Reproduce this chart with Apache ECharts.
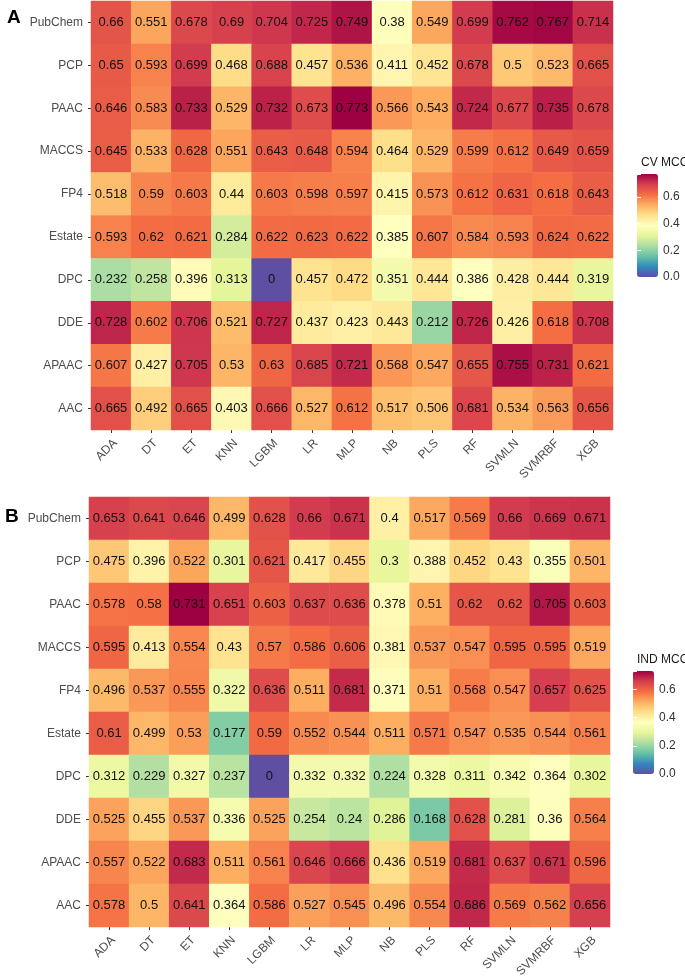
<!DOCTYPE html>
<html>
<head>
<meta charset="utf-8">
<script src="https://cdn.jsdelivr.net/npm/echarts@6/dist/echarts.min.js"></script>
<style>
html,body{margin:0;padding:0;background:#fff;}
#chart{width:685px;height:980px;}
</style>
</head>
<body>
<div id="chart"></div>
<script>
// Categories
const models = ['ADA','DT','ET','KNN','LGBM','LR','MLP','NB','PLS','RF','SVMLN','SVMRBF','XGB'];
const features = ['PubChem','PCP','PAAC','MACCS','FP4','Estate','DPC','DDE','APAAC','AAC']; // top to bottom

// Panel A: CV MCC (rows top to bottom)
const cvPubChem = [0.66,0.551,0.678,0.69,0.704,0.725,0.749,0.38,0.549,0.699,0.762,0.767,0.714];
const cvPCP     = [0.65,0.593,0.699,0.468,0.688,0.457,0.536,0.411,0.452,0.678,0.5,0.523,0.665];
const cvPAAC    = [0.646,0.583,0.733,0.529,0.732,0.673,0.773,0.566,0.543,0.724,0.677,0.735,0.678];
const cvMACCS   = [0.645,0.533,0.628,0.551,0.643,0.648,0.594,0.464,0.529,0.599,0.612,0.649,0.659];
const cvFP4     = [0.518,0.59,0.603,0.44,0.603,0.598,0.597,0.415,0.573,0.612,0.631,0.618,0.643];
const cvEstate  = [0.593,0.62,0.621,0.284,0.622,0.623,0.622,0.385,0.607,0.584,0.593,0.624,0.622];
const cvDPC     = [0.232,0.258,0.396,0.313,0,0.457,0.472,0.351,0.444,0.386,0.428,0.444,0.319];
const cvDDE     = [0.728,0.602,0.706,0.521,0.727,0.437,0.423,0.443,0.212,0.726,0.426,0.618,0.708];
const cvAPAAC   = [0.607,0.427,0.705,0.53,0.63,0.685,0.721,0.568,0.547,0.655,0.755,0.731,0.621];
const cvAAC     = [0.665,0.492,0.665,0.403,0.666,0.527,0.612,0.517,0.506,0.681,0.534,0.563,0.656];

// Panel B: IND MCC (rows top to bottom)
const indPubChem = [0.653,0.641,0.646,0.499,0.628,0.66,0.671,0.4,0.517,0.569,0.66,0.669,0.671];
const indPCP     = [0.475,0.396,0.522,0.301,0.621,0.417,0.455,0.3,0.388,0.452,0.43,0.355,0.501];
const indPAAC    = [0.578,0.58,0.731,0.651,0.603,0.637,0.636,0.378,0.51,0.62,0.62,0.705,0.603];
const indMACCS   = [0.595,0.413,0.554,0.43,0.57,0.586,0.606,0.381,0.537,0.547,0.595,0.595,0.519];
const indFP4     = [0.496,0.537,0.555,0.322,0.636,0.511,0.681,0.371,0.51,0.568,0.547,0.657,0.625];
const indEstate  = [0.61,0.499,0.53,0.177,0.59,0.552,0.544,0.511,0.571,0.547,0.535,0.544,0.561];
const indDPC     = [0.312,0.229,0.327,0.237,0,0.332,0.332,0.224,0.328,0.311,0.342,0.364,0.302];
const indDDE     = [0.525,0.455,0.537,0.336,0.525,0.254,0.24,0.286,0.168,0.628,0.281,0.36,0.564];
const indAPAAC   = [0.557,0.522,0.683,0.511,0.561,0.646,0.666,0.436,0.519,0.681,0.637,0.671,0.596];
const indAAC     = [0.578,0.5,0.641,0.364,0.586,0.527,0.545,0.496,0.554,0.686,0.569,0.562,0.656];

const legendTicks = [0.0, 0.2, 0.4, 0.6];

const cvRows = [cvPubChem,cvPCP,cvPAAC,cvMACCS,cvFP4,cvEstate,cvDPC,cvDDE,cvAPAAC,cvAAC];
const indRows = [indPubChem,indPCP,indPAAC,indMACCS,indFP4,indEstate,indDPC,indDDE,indAPAAC,indAAC];

function toData(rows){
  const out = [];
  rows.forEach((r, yi) => r.forEach((v, xi) => out.push([xi, yi, v])));
  return out;
}
function maxOf(rows){ return Math.max(...rows.map(r => Math.max(...r))); }

const spectral = ['#5E4FA2','#3288BD','#66C2A5','#ABDDA4','#E6F598','#FFFFBF','#FEE08B','#FDAE61','#F46D43','#D53E4F','#9E0142'];
const FONT = '"Liberation Sans", Arial, sans-serif';

const cvMax = maxOf(cvRows), indMax = maxOf(indRows);

const G = {
  A: {left: 91, top: 1, width: 522, height: 429},
  B: {left: 89, top: 497, width: 521, height: 431},
  LA: {left: 637, top: 174, width: 21, height: 103},
  LB: {left: 633, top: 671, width: 21, height: 103}
};

function xAx(gi){
  return {type:'category', gridIndex: gi, data: models, position:'bottom',
    axisLine:{show:false}, splitLine:{show:false},
    axisTick:{show:true, alignWithLabel:true, length:3, lineStyle:{color:'#333', width:1}},
    axisLabel:{rotate:45, fontSize:12, color:'#4D4D4D', fontFamily:FONT, margin:7, interval:0, verticalAlign:'top'}};
}
function yAx(gi){
  return {type:'category', gridIndex: gi, data: features, inverse:true,
    axisLine:{show:false}, splitLine:{show:false},
    axisTick:{show:true, alignWithLabel:true, length:3, lineStyle:{color:'#333', width:1}},
    axisLabel:{fontSize:12, color:'#4D4D4D', fontFamily:FONT, margin:8, interval:0}};
}
function legAxes(gi, mx){
  return [
    {type:'value', gridIndex:gi, min:0, max:mx, interval:0.2, position:'right', z:10,
     axisLine:{show:false}, splitLine:{show:false},
     axisTick:{show:true, inside:true, length:4, lineStyle:{color:'#fff', width:1}},
     axisLabel:{show:true, showMaxLabel:false, fontSize:12, color:'#333', fontFamily:FONT, margin:5,
       formatter: v => legendTicks.includes(Math.round(v*10)/10) ? v.toFixed(1) : ''}},
    {type:'value', gridIndex:gi, min:0, max:mx, interval:0.2, position:'left', z:10,
     axisLine:{show:false}, splitLine:{show:false},
     axisTick:{show:true, inside:true, length:4, lineStyle:{color:'#fff', width:1}},
     axisLabel:{show:false}}
  ];
}

const la = legAxes(2, cvMax), lb = legAxes(3, indMax);

const option = {
  backgroundColor:'#fff',
  animation:false,
  textStyle:{fontFamily:FONT},
  title:[
    {text:'A', left:2, top:3, textStyle:{fontSize:19, fontWeight:'bold', color:'#000', fontFamily:FONT}},
    {text:'B', left:0, top:502, textStyle:{fontSize:19, fontWeight:'bold', color:'#000', fontFamily:FONT}},
    {text:'CV MCC', left:636, top:152, textStyle:{fontSize:12, fontWeight:'normal', color:'#1a1a1a', fontFamily:FONT}},
    {text:'IND MCC', left:632, top:649, textStyle:{fontSize:12, fontWeight:'normal', color:'#1a1a1a', fontFamily:FONT}}
  ],
  grid:[
    Object.assign({containLabel:false}, G.A),
    Object.assign({containLabel:false}, G.B),
    Object.assign({containLabel:false}, G.LA),
    Object.assign({containLabel:false}, G.LB)
  ],
  xAxis:[xAx(0), xAx(1),
    {type:'value', gridIndex:2, show:false, min:0, max:1},
    {type:'value', gridIndex:3, show:false, min:0, max:1}],
  yAxis:[yAx(0), yAx(1), la[0], la[1], lb[0], lb[1]],
  visualMap:[
    {type:'continuous', seriesIndex:0, min:0, max:cvMax, orient:'vertical',
     left:G.LA.left, top:G.LA.top, itemWidth:G.LA.width, itemHeight:G.LA.height,
     padding:0, calculable:false, text:null, showLabel:false, hoverLink:false,
     inRange:{color:spectral}},
    {type:'continuous', seriesIndex:1, min:0, max:indMax, orient:'vertical',
     left:G.LB.left, top:G.LB.top, itemWidth:G.LB.width, itemHeight:G.LB.height,
     padding:0, calculable:false, text:null, showLabel:false, hoverLink:false,
     inRange:{color:spectral}}
  ],
  series:[
    {type:'heatmap', xAxisIndex:0, yAxisIndex:0, data:toData(cvRows),
     label:{show:true, fontSize:13, color:'#111', fontFamily:FONT, formatter:p => String(p.value[2])},
     itemStyle:{borderWidth:0}, emphasis:{disabled:true}},
    {type:'heatmap', xAxisIndex:1, yAxisIndex:1, data:toData(indRows),
     label:{show:true, fontSize:13, color:'#111', fontFamily:FONT, formatter:p => String(p.value[2])},
     itemStyle:{borderWidth:0}, emphasis:{disabled:true}}
  ]
};

const chart = echarts.init(document.getElementById('chart'), null, {renderer:'canvas'});
chart.setOption(option);
</script>
</body>
</html>
